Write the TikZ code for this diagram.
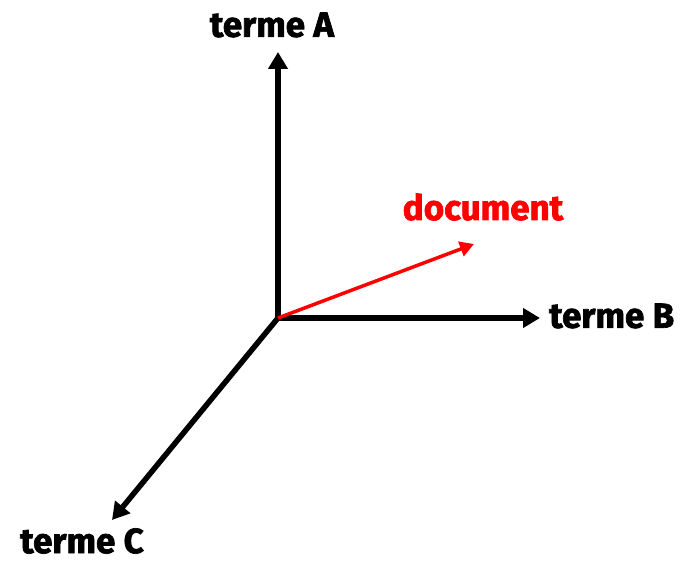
\documentclass[tikz,border=0pt]{standalone}
\usepackage{fontspec}
\setmainfont{Fira Sans}[BoldFeatures={FakeBold=2}]
\usetikzlibrary{arrows.meta,positioning}

\begin{document}
\begin{tikzpicture}[x=1pt,y=-1pt,
  >={Triangle[length=17pt,width=19pt]},
  axe/.style={->,line width=5.5pt,black},
  terme/.style={font=\fontsize{35}{38}\selectfont\bfseries,inner sep=0pt}]

\useasboundingbox (0,0) rectangle (681,564);

% origin and arrow ends
\coordinate (O) at (278,318);
\coordinate (tA) at (278,52);
\coordinate (tB) at (540,318);
\coordinate (tC) at (112,520);
\coordinate (tD) at (474,244);

% labels
\node[terme] (lA) at (272,25) {terme A};
\node[terme,anchor=west] (lB) at (549,316) {terme B};
\node[terme] (lC) at (82,541) {terme C};
\node[terme,red] (lD) at (483,207) {document};

% axes
\draw[axe] (O) -- (tA);
\draw[axe] (O) -- (tB);
\draw[axe] (O) -- (tC);
\draw[->,line width=3.5pt,red,>={Triangle[length=14pt,width=15pt]}] (O) -- (tD);

\end{tikzpicture}
\end{document}
